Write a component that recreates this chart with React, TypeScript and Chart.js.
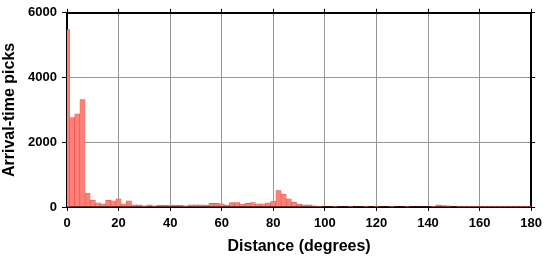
import React, { useEffect, useRef } from "react";
import { Chart, registerables } from "chart.js";

Chart.register(...registerables);

// Bin centres (degrees), 2-degree bins
const binCenters: number[] = [
  0, 2, 4, 6, 8, 10, 12, 14, 16, 18, 20, 22, 24, 26, 28, 30, 32, 34, 36, 38,
  40, 42, 44, 46, 48, 50, 52, 54, 56, 58, 60, 62, 64, 66, 68, 70, 72, 74, 76, 78,
  80, 82, 84, 86, 88, 90, 92, 94, 96, 98, 100, 102, 104, 106, 108, 110, 112, 114, 116, 118,
  120, 122, 124, 126, 128, 130, 132, 134, 136, 138, 140, 142, 144, 146, 148, 150, 152, 154, 156, 158,
  160, 162, 164, 166, 168, 170, 172, 174, 176, 178, 180,
];

// Arrival-time picks per bin
const picks: number[] = [
  5480, 2760, 2880, 3320, 430, 210, 130, 100, 210, 190, 250, 100, 190, 70, 70, 40, 70, 40, 60, 50,
  60, 60, 50, 40, 70, 70, 70, 50, 110, 110, 100, 60, 140, 140, 90, 110, 140, 100, 100, 130,
  185, 510, 400, 250, 150, 90, 70, 70, 40, 20, 15, 15, 20, 15, 15, 20, 15, 15, 20, 15,
  20, 15, 15, 20, 15, 15, 20, 15, 15, 15, 15, 20, 70, 45, 40, 15, 10, 10, 10, 10,
  10, 10, 10, 10, 10, 10, 10, 10, 5, 5, 5,
];

const xTicks: number[] = [0, 20, 40, 60, 80, 100, 120, 140, 160, 180];
const yTicks: number[] = [0, 2000, 4000, 6000];

const FONT = "'Liberation Sans', Arial, Helvetica, sans-serif";

export default function App() {
  const ref = useRef<HTMLCanvasElement | null>(null);

  useEffect(() => {
    if (!ref.current) return;
    const gridColor = "rgba(150,150,150,1)";
    const plain = (v: any) => String(v);
    const chart = new Chart(ref.current, {
      type: "bar",
      data: {
        datasets: [
          {
            data: binCenters.map((c, i) => ({ x: c, y: picks[i] })),
            backgroundColor: "rgb(255,128,120)",
            borderColor: "rgb(225,80,70)",
            borderWidth: 0.6,
            barPercentage: 1,
            categoryPercentage: 1,
            xAxisID: "x",
            yAxisID: "y",
          },
        ],
      },
      options: {
        responsive: false,
        animation: false,
        layout: { padding: 0 },
        plugins: { legend: { display: false }, tooltip: { enabled: false } },
        scales: {
          x: {
            type: "linear",
            position: "bottom",
            min: 0,
            max: 180,
            offset: false,
            afterBuildTicks: (s: any) => {
              s.ticks = xTicks.map((v) => ({ value: v }));
            },
            afterFit: (s: any) => {
              s.height = 51;
            },
            grid: { offset: false, color: gridColor, lineWidth: 1, tickLength: 4, tickColor: "#000", tickWidth: 1 },
            border: { color: "#000", width: 2 },
            ticks: {
              color: "#000",
              padding: 5,
              maxRotation: 0,
              callback: plain,
              font: { family: FONT, size: 13, weight: "bold" },
            },
            title: {
              display: true,
              text: "Distance (degrees)",
              color: "#000",
              padding: { top: 0, bottom: 2 },
              font: { family: FONT, size: 16, weight: "bold" },
            },
          },
          x2: {
            type: "linear",
            position: "top",
            min: 0,
            max: 180,
            offset: false,
            afterBuildTicks: (s: any) => {
              s.ticks = xTicks.map((v) => ({ value: v }));
            },
            afterFit: (s: any) => {
              s.height = 6;
            },
            grid: { offset: false, drawOnChartArea: false, tickLength: 4, tickColor: "#000", tickWidth: 1 },
            border: { color: "#000", width: 2 },
            ticks: { display: false },
          },
          y: {
            type: "linear",
            position: "left",
            min: 0,
            max: 6000,
            afterBuildTicks: (s: any) => {
              s.ticks = yTicks.map((v) => ({ value: v }));
            },
            afterFit: (s: any) => {
              s.width = 67;
            },
            grid: { color: gridColor, lineWidth: 1, tickLength: 5, tickColor: "#000", tickWidth: 1 },
            border: { color: "#000", width: 2 },
            ticks: {
              color: "#000",
              padding: 5,
              callback: plain,
              font: { family: FONT, size: 13, weight: "bold" },
            },
            title: {
              display: true,
              text: "Arrival-time picks",
              color: "#000",
              padding: { top: 0, bottom: 0 },
              font: { family: FONT, size: 16, weight: "bold" },
            },
          },
          y2: {
            type: "linear",
            position: "right",
            min: 0,
            max: 6000,
            afterBuildTicks: (s: any) => {
              s.ticks = yTicks.map((v) => ({ value: v }));
            },
            afterFit: (s: any) => {
              s.width = 12;
            },
            grid: { drawOnChartArea: false, tickLength: 4, tickColor: "#000", tickWidth: 1 },
            border: { color: "#000", width: 2 },
            ticks: { display: false },
          },
        },
      },
    } as any);
    return () => chart.destroy();
  }, []);

  return (
    <div style={{ position: "fixed", left: 0, top: 0, width: 547, height: 258, background: "#fff" }}>
      <canvas ref={ref} width={547} height={258} style={{ width: 547, height: 258, display: "block" }} />
    </div>
  );
}
